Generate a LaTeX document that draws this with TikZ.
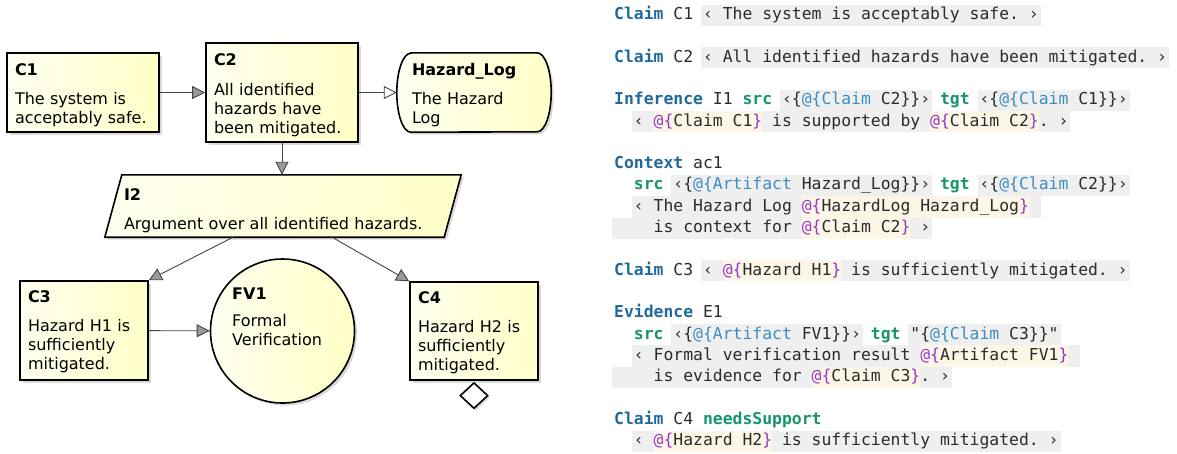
\documentclass[tikz,border=0pt]{standalone}
\usepackage{fontspec}
\setmainfont{DejaVu Sans}
\newfontfamily\codefont{DejaVu Sans Mono}
\usetikzlibrary{arrows.meta,shapes.geometric,shadows,backgrounds}
\definecolor{kwblue}{HTML}{21699B}
\definecolor{kwgreen}{HTML}{16956A}
\definecolor{refblue}{HTML}{3C8DC2}
\definecolor{purp}{HTML}{9A35C8}
\definecolor{gbg}{HTML}{EFEFEF}
\definecolor{cbg}{HTML}{FCF6E6}
\definecolor{codetxt}{HTML}{2B2B2B}
\definecolor{boxyel}{HTML}{FFFFC8}
\definecolor{boxlt}{HTML}{FFFFF0}
\definecolor{connc}{HTML}{444444}
\definecolor{tipgray}{HTML}{9A9A9A}
\setlength{\fboxsep}{0pt}
\frenchspacing
\newcommand\cstrut{\rule[-6.3pt]{0pt}{21.3pt}}
\newcommand\tstrut[1]{\rule{0pt}{#1}}
\newcommand\kwb[1]{{\bfseries\color{kwblue}#1}}
\newcommand\kwg[1]{{\bfseries\color{kwgreen}#1}}
\newcommand\rtype[1]{{\color{refblue}#1}}
\newcommand\pu[1]{{\color{purp}#1}}
\newcommand\graybg[1]{\kern-2pt\relax\colorbox{gbg}{\kern2pt\relax\cstrut#1\kern2pt\relax}\kern-2pt\relax}
\newcommand\creambg[1]{\colorbox{cbg}{\cstrut#1}}
\newcommand\dref[1]{\creambg{\pu{@\{}#1\pu{\}}}}
\newcommand\sref[2]{\graybg{‹\{\rtype{@\{#1} #2\}\}›}}
\begin{document}
\begin{tikzpicture}[x=1pt,y=-1pt,
  dia/.style={font=\fontsize{16}{19}\selectfont, text=black},
  gsnshape/.style={draw=black, line width=1.6pt, left color=boxlt, right color=boxyel,
    drop shadow={shadow xshift=2.5pt,shadow yshift=-2.5pt,opacity=0.3}},
  gsnbox/.style={dia, gsnshape, align=left, inner sep=0pt},
  conn/.style={draw=connc, line width=0.9pt},
  solidtip/.style={-{Triangle[length=13pt,width=13pt,fill=tipgray]}},
  opentip/.style={-{Triangle[length=13pt,width=13pt,fill=white]}},
  code/.style={font=\codefont\fontsize{16.4}{21.3}\selectfont, text=codetxt, inner sep=0pt, anchor=base west}
]
\useasboundingbox (0,0) rectangle (1177,453);

% ---------- GSN diagram ----------
\node[gsnbox, minimum width=152pt, minimum height=79pt, text width=136pt] (c1) at (83,92.5)
  {\tstrut{18pt}\textbf{C1}\\[10pt]The system is\\acceptably safe.};
\node[gsnbox, minimum width=152pt, minimum height=99pt, text width=136pt] (c2) at (282,92.5)
  {\tstrut{18pt}\textbf{C2}\\[11pt]All identified\\hazards have\\been mitigated.};
\node[dia, align=left, text width=124pt, minimum width=154pt, minimum height=79pt, inner sep=0pt] (hl) at (474,92.5)
  {\tstrut{18pt}\textbf{Hazard\_Log}\\[10pt]The Hazard\\Log};
\node[dia, align=left, text width=318pt, minimum width=356pt, minimum height=62pt, inner sep=0pt] (i2) at (283,206)
  {\tstrut{21pt}\textbf{I2}\\[10pt]Argument over all identified hazards.};
\node[gsnbox, minimum width=128pt, minimum height=99pt, text width=112pt] (c3) at (84,330.5)
  {\tstrut{15pt}\textbf{C3}\\[10pt]Hazard H1 is\\sufficiently\\mitigated.};
\node[gsnshape, circle, minimum size=144pt, inner sep=0pt] (fv1) at (282.5,331) {};
\node[dia, align=left, anchor=north west, inner sep=0pt] (fv1t) at (232,288)
  {\textbf{FV1}\\[8pt]Formal\\Verification};
\node[gsnbox, minimum width=128pt, minimum height=98pt, text width=112pt] (c4) at (474,331)
  {\tstrut{15pt}\textbf{C4}\\[10pt]Hazard H2 is\\sufficiently\\mitigated.};
\node[diamond, draw=black, line width=1.6pt, fill=white, minimum width=28pt, minimum height=26pt, inner sep=0pt,
  drop shadow={shadow xshift=2pt,shadow yshift=-2pt,opacity=0.3}, anchor=north] (c4u) at ([yshift=-1pt]c4.south) {};

\begin{pgfonlayer}{background}
  \path[gsnshape] ([xshift=14pt]hl.north west) -- ([xshift=-14pt]hl.north east)
    arc[start angle=90,end angle=-90,x radius=14pt,y radius=39.5pt]
    -- ([xshift=14pt]hl.south west)
    arc[start angle=270,end angle=90,x radius=14pt,y radius=39.5pt] -- cycle;
  \path[gsnshape] ([xshift=17pt]i2.north west) -- (i2.north east)
    -- ([xshift=-17pt]i2.south east) -- (i2.south west) -- cycle;
\end{pgfonlayer}

\draw[conn, solidtip] (c1) -- (c2);
\draw[conn, opentip] (c2) -- (hl);
\draw[conn, solidtip] (c2.south) -- (c2.south |- i2.north);
\draw[conn, solidtip] ([xshift=-50pt]i2.south) -- (c3.north east);
\draw[conn, solidtip] ([xshift=49pt]i2.south) -- (c4.north west);
\draw[conn, solidtip] (c3) -- (fv1);

% ---------- code listing ----------
\node[code] (l0) at (614,19.5) {\kwb{Claim} C1 \graybg{‹ The system is acceptably safe. ›}};
\node[code] (l2) at (614,62.1) {\kwb{Claim} C2 \graybg{‹ All identified hazards have been mitigated. ›}};
\node[code] (l4) at (614,104.7) {\kwb{Inference} I1 \kwg{src} \sref{Claim}{C2} \kwg{tgt} \sref{Claim}{C1}};
\node[code] (l5) at (614,126.0) {\phantom{xx}\graybg{‹ \dref{Claim C1} is supported by \dref{Claim C2}. ›}};
\node[code] (l7) at (614,168.6) {\kwb{Context} ac1};
\node[code] (l8) at (614,189.9) {\phantom{xx}\kwg{src} \sref{Artifact}{Hazard\_Log} \kwg{tgt} \sref{Claim}{C2}};
\node[code] (l9) at (614,211.2) {\phantom{xx}\graybg{‹ The Hazard Log \dref{HazardLog Hazard\_Log}\ }};
\node[code] (l10) at (614,232.5) {\graybg{\phantom{xxxx}is context for \dref{Claim C2} ›}};
\node[code] (l12) at (614,275.1) {\kwb{Claim} C3 \graybg{‹ \dref{Hazard H1} is sufficiently mitigated. ›}};
\node[code] (l14) at (614,317.7) {\kwb{Evidence} E1};
\node[code] (l15) at (614,339.0) {\phantom{xx}\kwg{src} \sref{Artifact}{FV1} \kwg{tgt} \graybg{"\{\rtype{@\{Claim} C3\}\}"}};
\node[code] (l16) at (614,360.3) {\phantom{xx}\graybg{‹ Formal verification result \dref{Artifact FV1}\ }};
\node[code] (l17) at (614,381.6) {\graybg{\phantom{xxxx}is evidence for \dref{Claim C3}. ›}};
\node[code] (l19) at (614,424.2) {\kwb{Claim} C4 \kwg{needsSupport}};
\node[code] (l20) at (614,445.5) {\phantom{xx}\graybg{‹ \dref{Hazard H2} is sufficiently mitigated. ›}};
\end{tikzpicture}
\end{document}
